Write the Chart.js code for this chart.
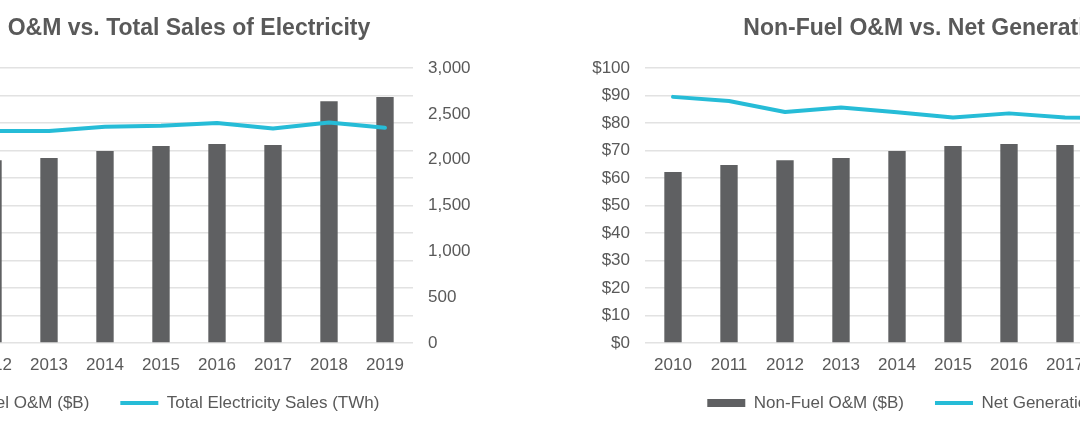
<!DOCTYPE html>
<html>
<head>
<meta charset="utf-8">
<script src="https://cdn.jsdelivr.net/npm/chart.js@4/dist/chart.umd.min.js"></script>
<style>
  html, body { margin: 0; padding: 0; background: #ffffff; }
  body { width: 1080px; height: 432px; overflow: hidden; position: relative; }
  .panel { position: absolute; top: 0; width: 720px; height: 432px; }
  #left-panel { left: -224px; }
  #right-panel { left: 568px; }
</style>
</head>
<body>
<div class="panel" id="left-panel"><canvas id="salesChart" width="720" height="432"></canvas></div>
<div class="panel" id="right-panel"><canvas id="genChart" width="720" height="432"></canvas></div>
<script>
// years shared by both panels
const years = ['2010', '2011', '2012', '2013', '2014', '2015', '2016', '2017', '2018', '2019'];

// non-fuel O&M, $B
const omSpendLeft = [62.2, 64.7, 66.5, 67.3, 69.8, 71.6, 72.4, 72.0, 87.9, 89.5];
const omSpendRight = [62.2, 64.7, 66.5, 67.3, 69.8, 71.6, 72.4, 72.0, 72.5, 73.0];

// total electricity sales, TWh (left panel, right axis)
const totalSales = [2330, 2320, 2314, 2314, 2358, 2369, 2401, 2340, 2406, 2347];

// net generation, TWh (right panel, right axis - off screen)
const netGeneration = [4475, 4400, 4200, 4280, 4195, 4100, 4175, 4100, 4090, 4120];

const dollarTicks = { min: 0, max: 100, step: 10 };
const salesTicks = { min: 0, max: 3000, step: 500 };
const genTicks = { min: 0, max: 5000, step: 500 };

(function() {
  const cfg = {
    colors: {
      bar: '#5f6062',
      line: '#26bcd7',
      text: '#595959',
      grid: '#e2e2e2'
    },
    family: '"Liberation Sans", Arial, sans-serif'
  };

  // legend needs wide item gaps but sits close to the axis labels
  const legendNudge = {
    id: 'legendNudge',
    beforeDraw(chart) {
      if (chart.legend) {
        chart.legend.top -= 10.5;
        chart.legend.bottom -= 10.5;
      }
    }
  };

  function legendLabels(chart) {
    const items = Chart.defaults.plugins.legend.labels.generateLabels(chart);
    items.forEach(it => {
      const ds = chart.data.datasets[it.datasetIndex];
      if (ds.type === 'line') {
        it.pointStyle = 'line';
        it.lineWidth = 4;
        it.strokeStyle = cfg.colors.line;
      } else {
        it.pointStyle = 'rect';
        it.lineWidth = 0;
        it.fillStyle = cfg.colors.bar;
      }
    });
    return items;
  }

  function buildChart(canvasId, opts) {
    const tickFont = { family: cfg.family, size: 17 };
    return new Chart(document.getElementById(canvasId), {
      data: {
        labels: years,
        datasets: [
          {
            type: 'bar',
            label: opts.barLabel,
            data: opts.bars,
            backgroundColor: cfg.colors.bar,
            yAxisID: 'yL',
            categoryPercentage: 1,
            barPercentage: 0.31,
            order: 1
          },
          {
            type: 'line',
            label: opts.lineLabel,
            data: opts.line,
            borderColor: cfg.colors.line,
            backgroundColor: cfg.colors.line,
            borderWidth: 4,
            borderCapStyle: 'round',
            borderJoinStyle: 'round',
            pointRadius: 0,
            tension: 0,
            yAxisID: 'yR',
            order: 0
          }
        ]
      },
      plugins: [legendNudge],
      options: {
        responsive: false,
        animation: false,
        layout: { padding: { top: 0, bottom: 0, left: 0, right: 0 } },
        plugins: {
          title: {
            display: true,
            text: opts.title,
            color: cfg.colors.text,
            font: { family: cfg.family, size: 23, weight: 'bold', lineHeight: 1.2 },
            padding: { top: 15, bottom: 25.4 }
          },
          legend: {
            position: 'bottom',
            labels: {
              usePointStyle: true,
              pointStyleWidth: 38,
              boxHeight: 8,
              padding: 31,
              color: cfg.colors.text,
              font: { family: cfg.family, size: 17 },
              generateLabels: legendLabels,
              sort: (a, b) => a.datasetIndex - b.datasetIndex
            }
          },
          tooltip: { enabled: false }
        },
        scales: {
          x: {
            grid: { display: false, drawTicks: false },
            border: { display: false },
            ticks: { color: cfg.colors.text, font: tickFont, padding: 12, maxRotation: 0, autoSkip: false },
            afterFit: s => { s.height = 31; }
          },
          yL: {
            position: 'left',
            min: dollarTicks.min,
            max: dollarTicks.max,
            grid: { color: cfg.colors.grid, lineWidth: 1.5, drawTicks: false },
            border: { display: false },
            ticks: {
              stepSize: dollarTicks.step,
              color: cfg.colors.text,
              font: tickFont,
              padding: 15,
              callback: v => '$' + v
            },
            afterFit: s => { s.width = 77; }
          },
          yR: {
            position: 'right',
            min: opts.rightTicks.min,
            max: opts.rightTicks.max,
            grid: { display: false, drawTicks: false },
            border: { display: false },
            ticks: {
              stepSize: opts.rightTicks.step,
              color: cfg.colors.text,
              font: tickFont,
              padding: 15,
              callback: v => v.toLocaleString('en-US')
            },
            afterFit: s => { s.width = 83; }
          }
        }
      }
    });
  }

  buildChart('salesChart', {
    title: 'Non-Fuel O&M vs. Total Sales of Electricity',
    barLabel: 'Non-Fuel O&M ($B)',
    lineLabel: 'Total Electricity Sales (TWh)',
    bars: omSpendLeft,
    line: totalSales,
    rightTicks: salesTicks
  });

  buildChart('genChart', {
    title: 'Non-Fuel O&M vs. Net Generation',
    barLabel: 'Non-Fuel O&M ($B)',
    lineLabel: 'Net Generation (TWh)',
    bars: omSpendRight,
    line: netGeneration,
    rightTicks: genTicks
  });
})();
</script>
</body>
</html>
